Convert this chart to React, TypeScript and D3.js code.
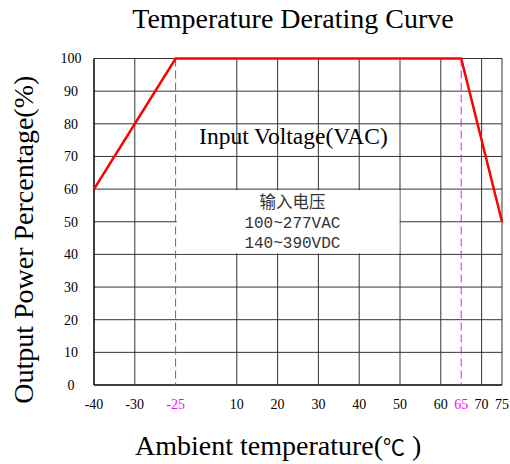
import { useEffect, useRef } from "react";
import * as d3 from "d3";

// x ticks and their slot positions (the axis is not linear)
const xTicks = [-40, -30, -25, 10, 20, 30, 40, 50, 60, 65, 70, 75];
const xSlots = [0, 1, 2, 3.5, 4.5, 5.5, 6.5, 7.5, 8.5, 9, 9.5, 10];
const markTicks = [-25, 65];
const yTicks = [0, 10, 20, 30, 40, 50, 60, 70, 80, 90, 100];

// derating curve
const curveTemp = [-40, -25, 65, 75];
const curvePower = [60, 100, 100, 50];

const infoLines = ["输入电压", "100~277VAC", "140~390VDC"];

const App = () => {
  const svgRef = useRef<SVGSVGElement>(null);

  useEffect(() => {
    document.body.style.margin = "0";
    const W = 510, H = 464;
    const margin = { top: 58.5, right: 8, bottom: 79, left: 94 };
    const width = W - margin.left - margin.right;
    const height = H - margin.top - margin.bottom;

    const root = d3.select(svgRef.current);
    root.selectAll("*").remove();
    const svg = root.append("g").attr("transform", `translate(${margin.left},${margin.top})`);

    const slot = d3.scaleLinear().domain([0, 10]).range([0, width]);
    const x = d3.scaleLinear().domain(xTicks).range(xSlots.map(s => slot(s)));
    const y = d3.scaleLinear().domain([0, 100]).range([height, 0]);

    const serif = "'Liberation Serif', 'Times New Roman', serif";

    // horizontal grid
    svg.selectAll(".hgrid").data(yTicks).enter().append("line")
      .attr("x1", 0).attr("x2", width)
      .attr("y1", d => y(d)).attr("y2", d => y(d))
      .attr("stroke", d => (d === 0 ? "#000" : "#333"))
      .attr("stroke-width", d => (d === 0 ? 1.5 : 1));

    // vertical grid
    svg.selectAll(".vgrid").data(xTicks.filter(t => !markTicks.includes(t))).enter().append("line")
      .attr("x1", d => x(d)).attr("x2", d => x(d))
      .attr("y1", 0).attr("y2", height)
      .attr("stroke", d => (d === -40 ? "#000" : "#333"))
      .attr("stroke-width", d => (d === -40 ? 1.5 : 1));

    // white box behind the info text
    svg.append("rect")
      .attr("x", x(-25) + 1).attr("y", y(60) + 1)
      .attr("width", x(50) - x(-25) - 1.5)
      .attr("height", y(40) - y(60) - 2)
      .attr("fill", "#fff");

    // magenta dashed marker lines
    svg.selectAll(".mark").data(markTicks).enter().append("line")
      .attr("x1", d => x(d)).attr("x2", d => x(d))
      .attr("y1", y(100)).attr("y2", height)
      .attr("stroke", "#ff00ff").attr("stroke-width", 1)
      .attr("stroke-dasharray", "8,4");

    // curve
    const pts = curveTemp.map((t, i) => [t, curvePower[i]] as [number, number]);
    svg.append("path")
      .datum(pts)
      .attr("fill", "none")
      .attr("stroke", "#ff0000")
      .attr("stroke-width", 2.5)
      .attr("d", d3.line<[number, number]>().x(d => x(d[0])).y(d => y(d[1])));

    // y tick labels
    svg.selectAll(".ylab").data(yTicks).enter().append("text")
      .attr("x", -23).attr("y", d => y(d)).attr("dy", "0.35em")
      .attr("text-anchor", "middle")
      .style("font-family", serif).style("font-size", "14px")
      .text(d => d);

    // x tick labels
    svg.selectAll(".xlab").data(xTicks).enter().append("text")
      .attr("x", d => x(d)).attr("y", height + 24)
      .attr("text-anchor", "middle")
      .style("font-family", serif).style("font-size", "14px")
      .attr("fill", d => (markTicks.includes(d) ? "#ff00ff" : "#000"))
      .text(d => d);

    // annotations
    svg.append("text")
      .attr("x", x(30) - 25).attr("y", y(80) + 20)
      .attr("text-anchor", "middle")
      .style("font-family", serif).style("font-size", "23.5px")
      .text("Input Voltage(VAC)");

    svg.selectAll(".info").data(infoLines).enter().append("text")
      .attr("x", x(30) - 26).attr("y", (d, i) => y(60) + 19 + i * 20)
      .attr("text-anchor", "middle")
      .attr("fill", "#333")
      .style("font-family", (d, i) => (i === 0 ? "'Noto Sans CJK SC', sans-serif" : "'Liberation Mono', monospace"))
      .style("font-size", (d, i) => (i === 0 ? "16.5px" : "16px"))
      .text(d => d);

    // titles
    root.append("text")
      .attr("x", 293).attr("y", 28)
      .attr("text-anchor", "middle")
      .style("font-family", serif).style("font-size", "28px")
      .text("Temperature Derating Curve");

    const xl = root.append("text")
      .attr("x", 135).attr("y", 455)
      .style("font-family", serif).style("font-size", "28px");
    xl.append("tspan").text("Ambient temperature(");
    xl.append("tspan").style("font-family", "'Noto Sans CJK SC', sans-serif").style("font-size", "22px").text("℃");
    xl.append("tspan").text(" )");

    root.append("text")
      .attr("transform", `translate(33, ${margin.top + height / 2 + 18}) rotate(-90)`)
      .attr("text-anchor", "middle")
      .style("font-family", serif).style("font-size", "28px")
      .text("Output Power Percentage(%)");
  }, []);

  return <svg ref={svgRef} width={510} height={464} style={{ display: "block" }}></svg>;
};

export default App;
